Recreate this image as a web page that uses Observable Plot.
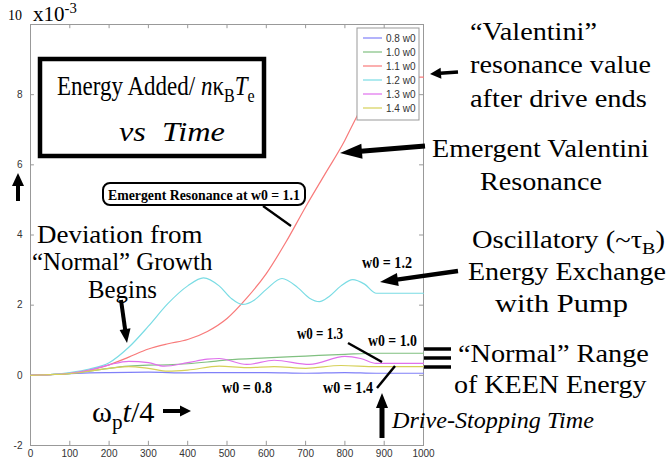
<!DOCTYPE html>
<html><head><meta charset="utf-8">
<script src="https://cdn.jsdelivr.net/npm/d3@7"></script>
<script src="https://cdn.jsdelivr.net/npm/@observablehq/plot@0.6"></script>
<style>body{margin:0;background:#fff;} svg{display:block}</style>
</head><body><div id="chart"></div>
<script>
const series = ["0.8 w0","1.0 w0","1.1 w0","1.2 w0","1.3 w0","1.4 w0"];
const colors = ["#8080f8","#80c080","#f87a7a","#7adce4","#e070ec","#d6d058"];
const xTicks = [0,100,200,300,400,500,600,700,800,900,1000];
const yTicks = [-2,0,2,4,6,8];

const t08 = [0,50,100,150,200,300,400,500,600,700,800,880,1000];
const e08 = [0,0.02,0.05,0.07,0.08,0.09,0.07,0.08,0.08,0.06,0.08,0.06,0.06];
const t10 = [0,50,100,150,200,250,300,350,400,450,500,600,700,800,880,1000];
const e10 = [0,0.02,0.05,0.12,0.2,0.26,0.29,0.3,0.33,0.38,0.44,0.5,0.55,0.6,0.63,0.63];
const t11 = [0,50,100,150,200,250,300,350,400,450,500,550,600,650,700,750,800,820,850,880,900,1000];
const e11 = [0,0.02,0.06,0.15,0.3,0.52,0.75,0.9,1.02,1.25,1.62,2.2,2.9,3.8,4.8,5.75,6.7,7.15,7.8,8.4,8.5,8.5];
const t12 = [0,50,100,150,200,250,300,350,400,440,480,510,540,570,600,640,680,710,735,760,790,820,850,880,1000];
const e12 = [0,0.02,0.08,0.18,0.36,0.8,1.4,2.05,2.55,2.78,2.55,2.2,2.02,2.15,2.45,2.76,2.5,2.2,2.1,2.25,2.55,2.73,2.6,2.34,2.34];
const t13 = [0,50,100,150,200,250,300,340,400,450,480,550,620,710,800,840,880,1000];
const e13 = [0,0.02,0.06,0.15,0.3,0.4,0.36,0.26,0.36,0.46,0.48,0.31,0.43,0.31,0.54,0.48,0.34,0.34];
const t14 = [0,50,100,150,200,250,300,350,400,480,550,620,700,790,880,1000];
const e14 = [0,0.02,0.05,0.12,0.2,0.25,0.2,0.12,0.15,0.26,0.22,0.25,0.2,0.28,0.25,0.25];

const ts = [t08,t10,t11,t12,t13,t14], es = [e08,e10,e11,e12,e13,e14];
const rows = [];
series.forEach((s,i)=>ts[i].forEach((t,j)=>rows.push({s, t, v: es[i][j]})));

const svg = Plot.plot({
  width: 668, height: 463,
  marginLeft: 30, marginRight: 245, marginTop: 24, marginBottom: 18,
  style: {background:"#fff", fontFamily:"'Liberation Sans Narrow','Liberation Sans',Arial,sans-serif", fontSize:"10px", color:"#333"},
  x: {domain:[0,1000]},
  y: {domain:[-2,10]},
  color: {domain: series, range: colors},
  marks: [
    Plot.frame({stroke:"#999"}),
    Plot.ruleX(xTicks, {x:d=>d, y1:-2, y2:-1.88, stroke:"#999"}),
    Plot.ruleX(xTicks, {x:d=>d, y1:10, y2:9.88, stroke:"#999"}),
    Plot.ruleY(yTicks, {y:d=>d, x1:0, x2:10, stroke:"#999"}),
    Plot.ruleY(yTicks, {y:d=>d, x1:990, x2:1000, stroke:"#999"}),
    Plot.axisX({ticks: xTicks, tickFormat: d=>String(d), tickSize:0, tickPadding:4, label:null, fill:"#333"}),
    Plot.axisY({ticks: yTicks, tickFormat: d=>String(d), tickSize:0, tickPadding:8, label:null, fill:"#333"}),
    Plot.line(rows, {x:"t", y:"v", z:"s", stroke:"s", strokeWidth:1.2, curve:"monotone-x"})
  ]
});
document.getElementById("chart").append(svg);

const ann = d3.select(svg).append("g").attr("text-anchor","start");
const SERIF = "'Liberation Serif','Times New Roman',Times,serif";
function label(parts, x, y, size, target, opts={}) {
  const t = ann.append("text").attr("x",x).attr("y",y).attr("font-family",SERIF)
    .attr("font-size",size).attr("fill","#000").attr("text-anchor","start");
  if (opts.bold) t.attr("font-weight","bold");
  if (opts.italic) t.attr("font-style","italic");
  let shift = 0;
  for (const p of parts) {
    const [s, st=""] = Array.isArray(p) ? p : [p];
    const tsp = t.append("tspan").text(s);
    let want = 0;
    if (st.includes("i")) tsp.attr("font-style","italic");
    if (st.includes("_")) { tsp.attr("font-size", size*0.7); want = size*0.25; }
    if (st.includes("^")) { tsp.attr("font-size", size*0.7); want = -size*0.4; }
    if (want !== shift) { tsp.attr("dy", want - shift); shift = want; }
  }
  if (target) {
    const w = t.node().getBBox().width;
    const k = target / w;
    t.attr("transform", `translate(${x},0) scale(${k},1) translate(${-x},0)`);
  }
  return t;
}
function arrow(x1,y1,x2,y2,w,hl,hw){
  const dx=x2-x1, dy=y2-y1, L=Math.hypot(dx,dy), ux=dx/L, uy=dy/L, px=-uy, py=ux;
  const bx=x2-ux*hl, by=y2-uy*hl;
  ann.append("line").attr("x1",x1).attr("y1",y1).attr("x2",bx+ux*1).attr("y2",by+uy*1)
    .attr("stroke","#000").attr("stroke-width",w);
  ann.append("polygon").attr("points",[[x2,y2],[bx+px*hw/2,by+py*hw/2],[bx-px*hw/2,by-py*hw/2]].map(p=>p.join(",")).join(" "))
    .attr("fill","#000");
}
function seg(x1,y1,x2,y2,w){
  ann.append("line").attr("x1",x1).attr("y1",y1).attr("x2",x2).attr("y2",y2)
    .attr("stroke","#000").attr("stroke-width",w);
}

// legend
const lg = ann.append("g");
lg.append("rect").attr("x",357).attr("y",28).attr("width",62).attr("height",92)
  .attr("fill","#fff").attr("stroke","#999");
series.forEach((s,i)=>{
  const y = 38 + i*14;
  lg.append("line").attr("x1",363).attr("x2",382).attr("y1",y).attr("y2",y)
    .attr("stroke",colors[i]).attr("stroke-width",1.2);
  lg.append("text").attr("x",386).attr("y",y+3.5).text(s).attr("text-anchor","start")
    .attr("font-family","'Liberation Sans Narrow','Liberation Sans',sans-serif")
    .attr("font-size",10).attr("fill","#333");
});

// top-left exponent
label(["10"], 8, 20, 14);
label(["x10",["-3","^"]], 33, 21, 21);

// title box
ann.append("rect").attr("x",40).attr("y",59).attr("width",224).attr("height",97)
  .attr("fill","#fff").attr("stroke","#000").attr("stroke-width",4.5);
label(["Energy Added/ ",["n","i"],"κ",["B","_"],["T","i"],["e","_"]], 57, 95, 28, 198);
label([["vs","i"],"  ",["Time","i"]], 119, 141, 28, 106);

// left axis up arrow
arrow(18,201,18,173,4,13,12);

// Deviation text
label(["Deviation from"], 37, 243, 25, 166);
label(["“Normal” Growth"], 32, 270, 25, 181);
label(["Begins"], 88, 298, 25, 69);
arrow(121,300,127,343,4,14,11);

// callout
ann.append("rect").attr("x",103).attr("y",183).attr("width",202).attr("height",22).attr("rx",7)
  .attr("fill","#fff").attr("stroke","#000").attr("stroke-width",2);
label(["Emergent Resonance at w0 = 1.1"], 108, 200, 15, 192, {bold:true});
seg(263,206,291,226,2.2);

// right-side annotations
label(["“Valentini”"], 470, 40, 25, 127);
label(["resonance value"], 470, 73, 25, 181);
label(["after drive ends"], 470, 107, 25, 177);
arrow(458,72,430,74,3.5,11,11);

label(["Emergent Valentini"], 432, 157, 25, 217);
label(["Resonance"], 480, 190, 25, 122);
arrow(425,146,340,153,5,22,15);

label(["Oscillatory (~",["τ","n"],["B","_"],")"], 472, 248, 25, 193);
label(["Energy Exchange"], 468, 280, 25, 198);
label(["with Pump"], 495, 312, 25, 133);
arrow(458,271,380,282,4.5,18,13);

label(["w0 = 1.2"], 362, 268, 16, 50, {bold:true});
label(["w0 = 1.3"], 297, 339, 16, 46, {bold:true});
label(["w0 = 1.0"], 368, 346, 16, 49, {bold:true});
label(["w0 = 0.8"], 222, 393, 16, 50, {bold:true});
label(["w0 = 1.4"], 323, 393, 16, 50, {bold:true});
seg(348,343,382,362,2.5);
seg(395,366,377,388,2.5);

// triple bar
[349,358,367].forEach(y=>seg(424,y,451,y,3.5));
label(["“Normal” Range"], 458, 362, 25, 191);
label(["of KEEN Energy"], 454, 393, 25, 193);

// drive stopping
arrow(382,438,382,393,5,15,12);
label([["Drive-Stopping Time","i"]], 392, 428, 23, 203);

// omega_p t/4
label(["ω",["p","_"],["t","i"],"/4"], 92, 422, 29, 63);
arrow(163,411,191,411,4,11,11);
</script></body></html>
